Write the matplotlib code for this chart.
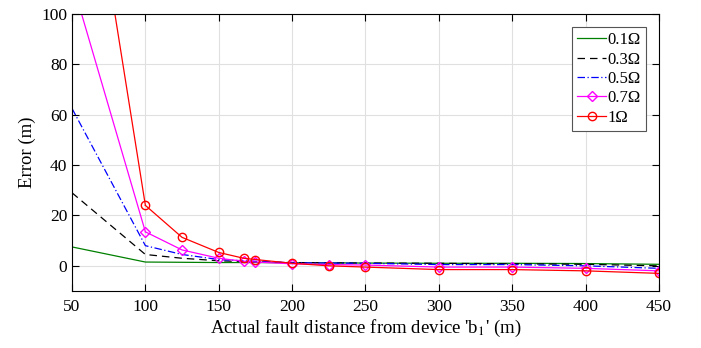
import matplotlib
matplotlib.use("Agg")
import matplotlib.pyplot as plt

plt.rcParams['font.family'] = ['Liberation Serif', 'DejaVu Serif']
plt.rcParams['mathtext.fontset'] = 'stix'

x = [50, 100, 125, 150, 167, 175, 200, 225, 250, 300, 350, 400, 450]
err_01 = [7.5, 1.5, 1.4, 1.3, 1.3, 1.3, 1.2, 1.2, 1.1, 1.0, 1.0, 0.9, 0.6]
err_03 = [29, 4.5, 3.0, 2.0, 1.7, 1.6, 1.3, 1.2, 1.1, 1.0, 0.8, 0.6, 0.0]
err_05 = [62.5, 8.0, 4.5, 2.5, 2.0, 1.8, 1.2, 1.1, 1.0, 0.5, 0.5, 0.0, -1.0]
err_07 = [113, 13.5, 6.3, 3.0, 1.8, 1.5, 0.8, 0.5, 0.3, -0.5, -0.5, -1.0, -2.0]
err_1 = [207, 24, 11.3, 5.3, 3.0, 2.5, 1.0, 0.0, -0.5, -1.5, -1.5, -2.0, -3.0]
labels = ['0.1Ω', '0.3Ω', '0.5Ω', '0.7Ω', '1Ω']
xticks = [50, 100, 150, 200, 250, 300, 350, 400, 450]
yticks = [0, 20, 40, 60, 80, 100]

fig = plt.figure(figsize=(7.01, 3.48), dpi=100)
ax = fig.add_axes([72/701, 1-291/348, (659-72)/701, (291-14)/348])

ax.plot(x, err_01, color='#008000', lw=0.9, label=labels[0])
ax.plot(x, err_03, color='black', lw=0.9, ls=(0, (6, 4)), label=labels[1])
ax.plot(x, err_05, color='blue', lw=0.9, ls=(0, (6, 2, 1, 2)), label=labels[2])
ax.plot(x[1:], err_07[1:], color='magenta', lw=0.9, marker='D', ms=5.5, mfc='none', label=labels[3])
ax.plot(x[:2], err_07[:2], color='magenta', lw=0.9)
ax.plot(x[1:], err_1[1:], color='red', lw=0.9, marker='o', ms=6, mfc='none', label=labels[4])
ax.plot(x[:2], err_1[:2], color='red', lw=0.9)

ax.set_xlim(50, 450)
ax.set_ylim(-10, 100)
ax.set_xticks(xticks)
ax.set_yticks(yticks)
ax.grid(True, color='#e0e0e0', lw=0.8)
ax.tick_params(direction='in', length=5, labelsize=12.5, top=True, right=True)
ax.tick_params(axis='x', pad=6)
for s in ax.spines.values():
    s.set_linewidth(0.8)
ax.set_xlabel("Actual fault distance from device 'b$_1$' (m)", fontsize=13.5, labelpad=2)
ax.set_ylabel("Error (m)", fontsize=13.5)
leg = ax.legend(loc='upper right', fontsize=12, handlelength=1.7, handletextpad=0.1,
                borderaxespad=0.8, labelspacing=0.2, fancybox=False, framealpha=1,
                borderpad=0.3)
leg.get_frame().set_edgecolor('#555555')
leg.get_frame().set_linewidth(0.8)

fig.savefig('out.png', dpi=100)
